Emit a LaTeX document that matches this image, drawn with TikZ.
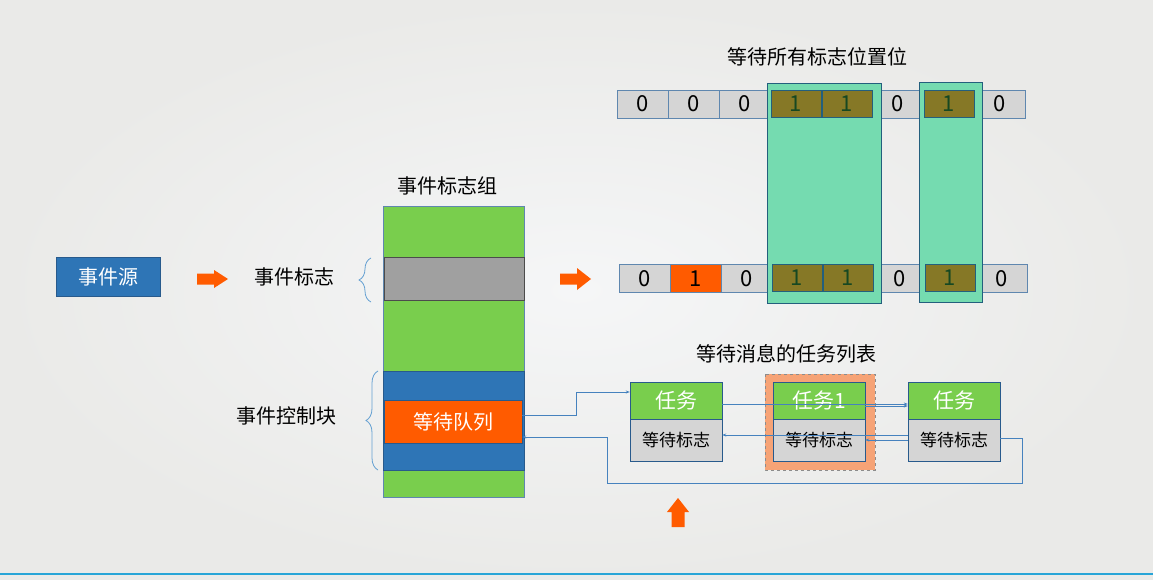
\documentclass[tikz,border=0pt]{standalone}
\usepackage{fontspec}
\setmainfont{Noto Sans CJK SC}
\usepackage{tikz}
\usetikzlibrary{arrows.meta,decorations.pathreplacing}
\pgfdeclarelayer{bglayer}
\pgfdeclarelayer{edgelayer}
\pgfsetlayers{bglayer,main,edgelayer}
\definecolor{boxblue}{RGB}{46,117,182}
\definecolor{boxline}{RGB}{40,90,140}
\definecolor{grpgreen}{RGB}{121,206,77}
\definecolor{grpgray}{RGB}{160,160,160}
\definecolor{hotorange}{RGB}{255,91,0}
\definecolor{cellgray}{RGB}{213,213,213}
\definecolor{cellline}{RGB}{95,135,175}
\definecolor{setolive}{RGB}{134,120,38}
\definecolor{settext}{RGB}{22,72,34}
\definecolor{maskgreen}{RGB}{117,219,176}
\definecolor{maskline}{RGB}{35,95,125}
\definecolor{bracecol}{RGB}{100,160,210}
\definecolor{linkcol}{RGB}{70,130,190}
\definecolor{salmon}{RGB}{246,163,118}
\tikzstyle{bit}=[draw=cellline, fill=cellgray, minimum width=51pt, minimum height=28pt, inner sep=0pt, font=\fontsize{22}{26}\selectfont]
\tikzstyle{bitset}=[bit, draw=maskline, fill=setolive, text=settext, minimum width=50pt, minimum height=27pt]
\tikzstyle{bitnew}=[bit, fill=hotorange]
\tikzstyle{label}=[font=\fontsize{20}{24}\selectfont, text=black]
\tikzstyle{band}=[draw=boxline, minimum width=141pt, inner sep=0pt]
\tikzstyle{task}=[draw=boxline, fill=grpgreen, text=white, minimum width=92pt, minimum height=37pt, inner sep=0pt, font=\fontsize{21}{25}\selectfont]
\tikzstyle{wait}=[draw=boxline, fill=cellgray, minimum width=92pt, minimum height=42pt, inner sep=0pt, font=\fontsize{17}{20}\selectfont]
\tikzstyle{mask}=[draw=maskline, fill=maskgreen, line width=0.8pt]
\tikzstyle{link}=[draw=linkcol, line width=0.8pt, -{Stealth[length=4pt,width=3pt]}]
\tikzstyle{brace}=[draw=bracecol, line width=0.8pt, decorate, decoration={brace, amplitude=12pt}]
\tikzstyle{bigarrow}=[fill=hotorange]

\begin{document}
\begin{tikzpicture}[x=1pt, y=-1pt]
			\useasboundingbox (0,0) rectangle (1153,580);
			\begin{pgfonlayer}{bglayer}
			\shade [inner color={rgb,255:red,245;green,246;blue,247}, outer color={rgb,255:red,234;green,234;blue,232}] (0,0) rectangle (1153,580);
			\draw [draw={rgb,255:red,40;green,165;blue,215}, line width=2.5pt] (0,574) -- (1153,574);
			\end{pgfonlayer}
			% source and flag group
			\node [draw=boxline, fill=boxblue, text=white, minimum width=104pt, minimum height=39pt, inner sep=0pt, font=\fontsize{20}{24}\selectfont] (src) at (108, 276.5) {事件源};
			\fill [style=bigarrow] (197, 273.5) -- (214, 273.5) -- (214, 270) -- (228, 279) -- (214, 288) -- (214, 284.5) -- (197, 284.5) -- cycle;
			\node [style=label] (flagtxt) at (294, 277) {事件标志};
			\node [style=label] (grptxt) at (447, 186) {事件标志组};
			\node [style=band, fill=grpgreen, draw=cellline, minimum height=291pt] (grp) at (453.5, 351.5) {};
			\node [style=band, fill=grpgray, draw=black!70, minimum width=140pt, minimum height=43pt] (flag) at (454, 278.5) {};
			\node [style=band, fill=boxblue, minimum height=99pt] (ecb) at (453.5, 420.5) {};
			\node [style=band, fill=hotorange, text=white, minimum width=138pt, minimum height=43pt, font=\fontsize{20}{24}\selectfont] (queue) at (453, 421.5) {等待队列};
			\node [style=label] (ecbtxt) at (286, 416) {事件控制块};
			\draw [style=brace] (371, 302) -- (371, 258);
			\draw [style=brace] (378, 470) -- (378, 371);
			\fill [style=bigarrow] (560, 273.5) -- (577, 273.5) -- (577, 268) -- (591, 279) -- (577, 290) -- (577, 284.5) -- (560, 284.5) -- cycle;
			% flag bits
			\node [style=label] (alltxt) at (817, 57) {等待所有标志位置位};
			\node [style=bit] (t0) at (642.5, 104) {0};
			\node [style=bit] (t1) at (693.5, 104) {0};
			\node [style=bit] (t2) at (744.5, 104) {0};
			\node [style=bit] (t5) at (897.5, 104) {0};
			\node [style=bit] (t7) at (999.5, 104) {0};
			\node [style=bit] (b0) at (644.5, 278.5) {0};
			\node [style=bitnew] (b1) at (695.5, 278.5) {1};
			\node [style=bit] (b2) at (746.5, 278.5) {0};
			\node [style=bit] (b5) at (899.5, 278.5) {0};
			\node [style=bit] (b7) at (1001.5, 278.5) {0};
			\draw [style=mask] (767, 83) rectangle (881, 303);
			\draw [style=mask] (919, 82) rectangle (982, 302);
			\node [style=bitset] (t3) at (796, 104) {1};
			\node [style=bitset] (t4) at (847, 104) {1};
			\node [style=bitset] (t6) at (949, 104) {1};
			\node [style=bitset] (b3) at (797, 278) {1};
			\node [style=bitset] (b4) at (848, 278) {1};
			\node [style=bitset] (b6) at (950, 278) {1};
			% waiting task list
			\node [style=label] (listtxt) at (786, 354) {等待消息的任务列表};
			\draw [fill=salmon, draw=black!45, dashed, line width=0.6pt] (765, 374) rectangle (875, 470);
			\node [style=task] (ta) at (676, 400.5) {任务};
			\node [style=wait] (wa) at (676, 440) {等待标志};
			\node [style=task] (tb) at (819, 400.5) {任务1};
			\node [style=wait] (wb) at (819, 440) {等待标志};
			\node [style=task] (tc) at (954, 400.5) {任务};
			\node [style=wait] (wc) at (954, 440) {等待标志};
			\fill [style=bigarrow] (671.5, 527) -- (671.5, 512) -- (667, 512) -- (678, 498) -- (689, 512) -- (684.5, 512) -- (684.5, 527) -- cycle;
			\begin{pgfonlayer}{edgelayer}
			\draw [style=link] ([yshift=6pt]queue.east) -- ++(54, 0) |- ([yshift=8.5pt]ta.west);
			\draw [style=link] ([yshift=-3.5pt]ta.east) -- ([yshift=-3.5pt]tc.west);
			\draw [style=link] ([yshift=-5.5pt]tb.east) -- ([yshift=-5.5pt]tc.west);
			\draw [style=link] ([yshift=5pt]wc.west) -- ([yshift=5pt]wa.east);
			\draw [style=link] (wc.west) -- (wb.east);
			\draw [style=link] ([yshift=2pt]wc.east) -- ++(22, 0) |- (607, 483) |- ([yshift=-15.5pt]queue.east);
			\end{pgfonlayer}
			\end{tikzpicture}
\end{document}
